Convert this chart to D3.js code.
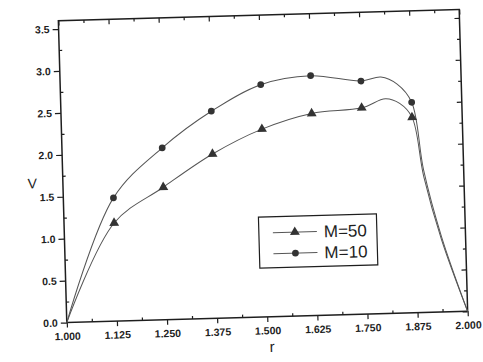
<!DOCTYPE html>
<html><head><meta charset="utf-8">
<script src="https://cdn.jsdelivr.net/npm/d3@7"></script>
<style>body{margin:0;background:#fff}</style>
</head><body>
<svg id="chart" width="483" height="362"></svg>
<script>
// Marker positions (r) and values V for the two runs
const rMarks = [1.125, 1.25, 1.375, 1.5, 1.625, 1.75, 1.875];
const vM50 = [1.17, 1.58, 1.96, 2.24, 2.41, 2.46, 2.33];
const vM10 = [1.47, 2.05, 2.47, 2.77, 2.86, 2.78, 2.51];

// Points along each plotted curve (includes the end points and the shape between markers)
const rCurveM50 = [1.0, 1.125, 1.25, 1.375, 1.5, 1.625, 1.75, 1.81, 1.845, 1.875, 1.9, 1.94, 2.0];
const vCurveM50 = [0, 1.17, 1.58, 1.96, 2.24, 2.41, 2.46, 2.56, 2.50, 2.33, 1.62, 0.86, 0];
const rCurveM10 = [1.0, 1.125, 1.25, 1.375, 1.5, 1.625, 1.75, 1.80, 1.84, 1.875, 1.9, 1.94, 2.0];
const vCurveM10 = [0, 1.47, 2.05, 2.47, 2.77, 2.86, 2.78, 2.82, 2.73, 2.51, 1.70, 0.90, 0];

const xTicks = [1.0, 1.125, 1.25, 1.375, 1.5, 1.625, 1.75, 1.875, 2.0];
const yTicks = [0, 0.5, 1.0, 1.5, 2.0, 2.5, 3.0, 3.5];
const legendLabels = ["M=50", "M=10"];

const W = 483, H = 362;
const pLeft = 62.5, pRight = 463.5, pTop = 15, pBottom = 317;
const ink = "#1e1e1e";
const font = "Liberation Sans, Arial, sans-serif";

const svg = d3.select("#chart");
svg.append("rect").attr("width", W).attr("height", H).attr("fill", "#fff");
// the whole figure sits slightly tilted on the page
const g = svg.append("g").attr("transform", "rotate(-1.6, 263, 166)");

const x = d3.scaleLinear().domain([1.0, 2.0]).range([pLeft, pRight]);
const y = d3.scaleLinear().domain([0, 3.6]).range([pBottom, pTop]);

const xMinor = d3.range(1.0625, 2.0, 0.125);
const yMinor = d3.range(0.25, 3.6, 0.5);

// bottom and left axes: labels, outward major ticks, inward minor ticks
g.append("g").attr("transform", `translate(0,${pBottom})`)
  .call(d3.axisBottom(x).tickValues(xTicks).tickFormat(d3.format(".3f")).tickSize(5).tickPadding(5));
g.append("g").attr("transform", `translate(0,${pBottom})`)
  .call(d3.axisTop(x).tickValues(xMinor).tickFormat("").tickSize(3));

g.append("g").attr("transform", `translate(${pLeft},0)`)
  .call(d3.axisLeft(y).tickValues(yTicks).tickFormat(d3.format(".1f")).tickSize(6).tickPadding(3));
g.append("g").attr("transform", `translate(${pLeft},0)`)
  .call(d3.axisRight(y).tickValues(yMinor).tickFormat("").tickSize(3));

// top and right axes: inward ticks only
g.append("g").attr("transform", `translate(0,${pTop})`)
  .call(d3.axisBottom(x).tickValues(xTicks).tickFormat("").tickSize(5));
g.append("g").attr("transform", `translate(0,${pTop})`)
  .call(d3.axisBottom(x).tickValues(xMinor).tickFormat("").tickSize(3));
g.append("g").attr("transform", `translate(${pRight},0)`)
  .call(d3.axisLeft(y).tickValues(yTicks).tickFormat("").tickSize(5));
g.append("g").attr("transform", `translate(${pRight},0)`)
  .call(d3.axisLeft(y).tickValues(yMinor).tickFormat("").tickSize(3));

g.selectAll(".domain").remove();
g.selectAll(".tick line").attr("stroke", ink).attr("stroke-width", 1.2);
g.selectAll(".tick text").attr("fill", ink).attr("font-family", font).attr("font-size", 10.5)
  .attr("font-weight", 600);

// frame
g.append("rect").attr("x", pLeft).attr("y", pTop).attr("width", pRight - pLeft).attr("height", pBottom - pTop)
  .attr("fill", "none").attr("stroke", ink).attr("stroke-width", 1.5);

// axis titles
g.append("text").attr("x", 32).attr("y", 182).attr("text-anchor", "middle")
  .attr("font-family", font).attr("font-size", 14).attr("fill", ink).text("V");
g.append("text").attr("x", 267).attr("y", 352).attr("text-anchor", "middle")
  .attr("font-family", font).attr("font-size", 15).attr("fill", ink).text("r");

// curves
const line = d3.line().x(d => x(d[0])).y(d => y(d[1])).curve(d3.curveCatmullRom.alpha(0.5));
const curveM50 = rCurveM50.map((r, i) => [r, vCurveM50[i]]);
const curveM10 = rCurveM10.map((r, i) => [r, vCurveM10[i]]);
g.append("path").attr("d", line(curveM50)).attr("fill", "none").attr("stroke", "#555").attr("stroke-width", 1);
g.append("path").attr("d", line(curveM10)).attr("fill", "none").attr("stroke", "#555").attr("stroke-width", 1);

const tri = d3.symbol().type(d3.symbolTriangle).size(42);
const dot = d3.symbol().type(d3.symbolCircle).size(36);
g.selectAll(".m50").data(rMarks.map((r, i) => [r, vM50[i]])).join("path")
  .attr("transform", d => `translate(${x(d[0])},${y(d[1])})`).attr("d", tri).attr("fill", "#333");
g.selectAll(".m10").data(rMarks.map((r, i) => [r, vM10[i]])).join("path")
  .attr("transform", d => `translate(${x(d[0])},${y(d[1])})`).attr("d", dot).attr("fill", "#333");

// legend
const lg = g.append("g").attr("transform", "translate(257,217)");
lg.append("rect").attr("width", 118).attr("height", 51).attr("fill", "#fff")
  .attr("stroke", ink).attr("stroke-width", 1.2);
const symbols = [tri, dot];
legendLabels.forEach((lab, i) => {
  const yy = 16 + i * 21;
  lg.append("line").attr("x1", 14).attr("x2", 58).attr("y1", yy).attr("y2", yy)
    .attr("stroke", "#555").attr("stroke-width", 1);
  lg.append("path").attr("transform", `translate(36,${yy})`).attr("d", symbols[i]).attr("fill", "#333");
  lg.append("text").attr("x", 65).attr("y", yy + 6).attr("font-family", font)
    .attr("font-size", 17).attr("fill", ink).text(lab);
});
</script>
</body></html>
